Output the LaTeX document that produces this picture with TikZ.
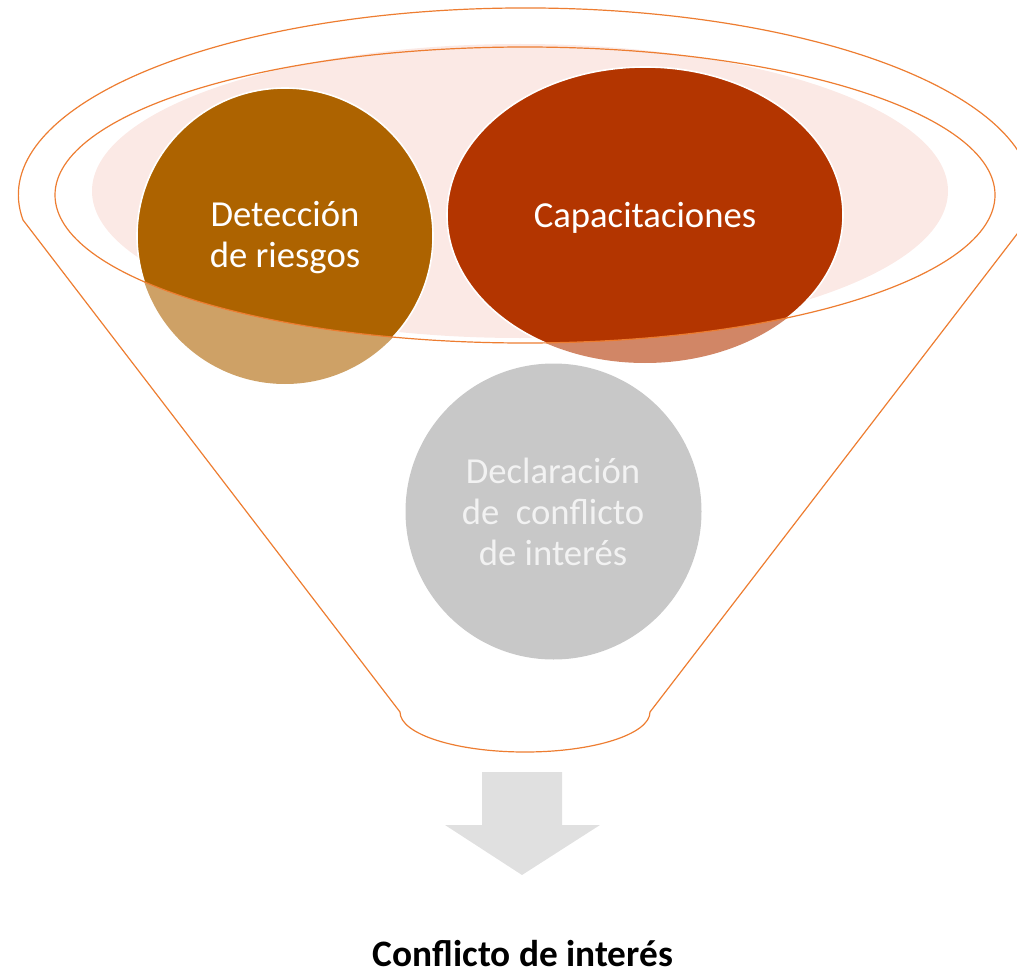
\documentclass[tikz,border=0pt]{standalone}
\usepackage{fontspec}
\setmainfont{Carlito}
\definecolor{funnelline}{RGB}{237,125,49}
\definecolor{pinkfill}{RGB}{251,233,229}
\definecolor{detc}{RGB}{173,99,0}
\definecolor{capc}{RGB}{179,53,0}
\definecolor{greyc}{RGB}{200,200,200}
\definecolor{arrowc}{RGB}{224,224,224}
\definecolor{greytext}{RGB}{242,242,242}
\begin{document}
\begin{tikzpicture}[x=0.75pt,y=-0.75pt,
  funnel/.style={draw=funnelline,line width=0.9pt},
  rimline/.style={draw=funnelline,line width=0.9pt},
  lighttone/.style={fill opacity=0.6},
  ringedge/.style={draw=white,line width=1.2pt},
  circtext/.style={text=white,font=\fontsize{27.5}{30.75}\selectfont,align=center,inner sep=0pt},
  greytxt/.style={text=greytext,font=\fontsize{27.5}{30.75}\selectfont,align=center,inner sep=0pt},
  titletxt/.style={text=black,font=\fontsize{28}{32}\selectfont\bfseries,inner sep=0pt,text depth=0pt}]
\useasboundingbox (0,0) rectangle (1017,970);
% funnel outline
\draw[funnel] (23,220) arc[start angle=172.3,end angle=367.7,x radius=507,y radius=187]
  -- (650,712) arc[start angle=0,end angle=180,x radius=125,y radius=40] -- cycle;
% pink inner disc
\fill[pinkfill] (520,191) ellipse [x radius=428,y radius=147];
% light tones (outside rim)
\fill[detc,lighttone] (285,236) circle [radius=148];
\fill[capc,lighttone] (645,215) ellipse [x radius=198,y radius=148];
% solid tones inside the rim
\begin{scope}
  \clip (525,195) ellipse [x radius=470,y radius=148];
  \fill[detc] (285,236) circle [radius=148];
  \draw[ringedge] (285,236) circle [radius=148];
  \fill[capc] (645,215) ellipse [x radius=198,y radius=148];
  \draw[ringedge] (645,215) ellipse [x radius=198,y radius=148];
\end{scope}
% inner rim
\draw[rimline] (525,195) ellipse [x radius=470,y radius=148];
% grey circle
\fill[greyc] (553.5,511.5) circle [radius=148];
% texts
\node[circtext] (det) at (285,238) {Detección\\de riesgos};
\node[circtext,anchor=base] (cap) at (645,227) {Capacitaciones};
\node[greytxt] (dec) at (553,512) {Declaración\\de\ \ conflicto\\de interés};
% arrow
\fill[arrowc] (482,772) -- (562,772) -- (562,825) -- (600,825) -- (522,875) -- (445,825) -- (482,825) -- cycle;
\node[titletxt,anchor=base] (res) at (523,966) {Conflicto de interés};
\end{tikzpicture}
\end{document}
